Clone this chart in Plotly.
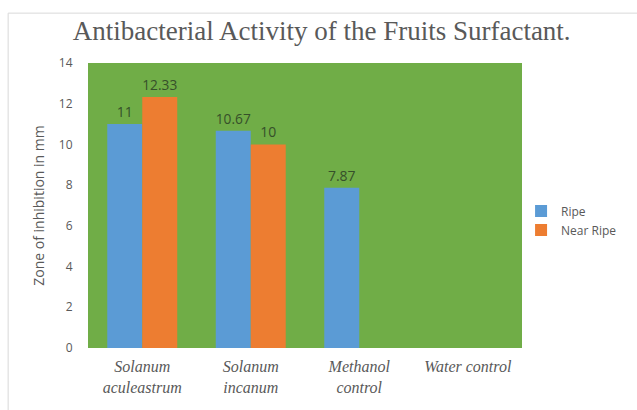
import plotly.graph_objects as go

categories = ["Solanum<br>aculeastrum", "Solanum<br>incanum", "Methanol<br>control", "Water control"]
ripe = [11, 10.67, 7.87, None]
near_ripe = [12.33, 10, None, None]
y_ticks = [0, 2, 4, 6, 8, 10, 12, 14]

BLUE = "#5B9BD5"
ORANGE = "#ED7D31"
GREEN = "#70AD47"
GREY = "#595959"
LABEL = "#36502a"


def fmt(v):
    if v is None:
        return ""
    return f"{v:g}"


fig = go.Figure()
for name, vals, color in [("Ripe", ripe, BLUE), ("Near Ripe", near_ripe, ORANGE)]:
    fig.add_trace(go.Bar(
        name=name, x=categories, y=vals,
        marker=dict(color=color, line=dict(width=0)),
        text=[fmt(v) for v in vals], textposition="outside",
        textfont=dict(family="Open Sans", size=14, color=LABEL),
        cliponaxis=False,
    ))

fig.update_layout(
    width=637, height=410,
    margin=dict(l=88, r=115, t=63, b=62, autoexpand=False),
    paper_bgcolor="white",
    plot_bgcolor=GREEN,
    barmode="group",
    bargap=0.355,
    bargroupgap=0,
    title=dict(
        text="Antibacterial Activity of the Fruits Surfactant.",
        font=dict(family="Liberation Serif", size=27, color=GREY),
        x=0.505, xanchor="center", y=0.925, yanchor="middle",
    ),
    legend=dict(
        xref="container", yref="container",
        x=0.818, y=0.462, xanchor="left", yanchor="middle",
        font=dict(family="Open Sans", size=12, color=GREY),
        bgcolor="rgba(0,0,0,0)", itemwidth=30, tracegroupgap=0,
    ),
    showlegend=True,
    shapes=[dict(
        type="rect", xref="paper", yref="paper",
        x0=-0.184, x1=1.4, y0=-0.3, y1=1.175,
        line=dict(color="#d9d9d9", width=1), fillcolor="rgba(0,0,0,0)",
        layer="below",
    )],
)

fig.update_xaxes(
    showgrid=False, zeroline=False, showline=False,
    tickfont=dict(family="Liberation Serif", size=16, color=GREY, style="italic"),
    ticks="outside", ticklen=4, tickcolor="rgba(0,0,0,0)",
)
fig.update_yaxes(
    range=[0, 14], tickvals=y_ticks,
    showgrid=False, zeroline=False, showline=False,
    tickfont=dict(family="Open Sans", size=12, color=GREY),
    ticks="outside", ticklen=12, tickcolor="rgba(0,0,0,0)",
    title=dict(text="Zone of inhibition in mm",
               font=dict(family="Open Sans", size=14, color=GREY), standoff=10),
)

fig.write_html("out.html")
